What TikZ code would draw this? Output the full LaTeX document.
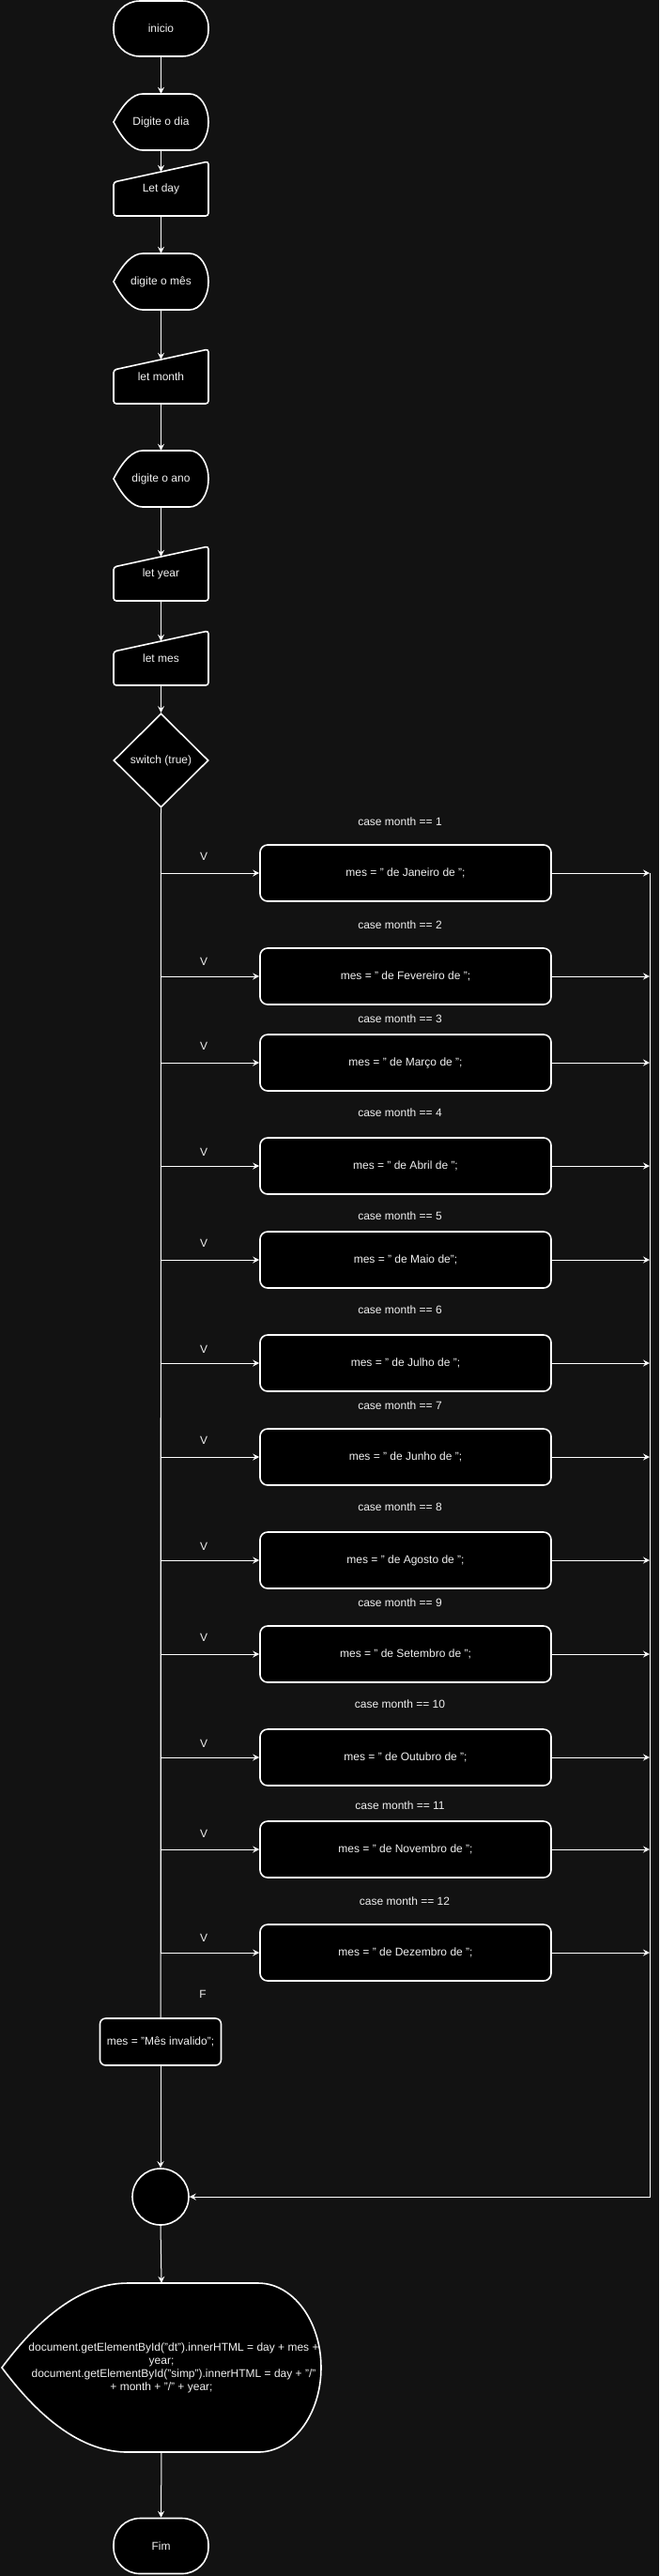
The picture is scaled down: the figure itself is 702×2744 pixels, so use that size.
\documentclass[tikz,border=0pt]{standalone}
\usepackage{fontspec}
\setmainfont{Liberation Sans}
\usetikzlibrary{shapes.geometric,arrows.meta}
\definecolor{bgc}{HTML}{121212}
\definecolor{txc}{HTML}{F0F0F0}
\newcommand\dispshape[6]{% x0, ytop, w, h, a (left part), b (right part)
  \draw[shp] (#1,#2+#4/2) .. controls (#1+#5/3,#2+#4/6) and (#1+2*#5/3,#2) .. (#1+#5,#2)
    -- (#1+#3-#6,#2)
    .. controls (#1+#3-#6+0.552*#6,#2) and (#1+#3,#2+#4/2-0.276*#4) .. (#1+#3,#2+#4/2)
    .. controls (#1+#3,#2+#4/2+0.276*#4) and (#1+#3-#6+0.552*#6,#2+#4) .. (#1+#3-#6,#2+#4)
    -- (#1+#5,#2+#4)
    .. controls (#1+2*#5/3,#2+#4) and (#1+#5/3,#2+5*#4/6) .. (#1,#2+#4/2) -- cycle;
}
\newcommand\maninshape[2]{% x0, ytop
  \draw[shp, rounded corners=3pt] (#1,#2+22) -- (#1+101,#2) -- (#1+101,#2+58) -- (#1,#2+58) -- cycle;
}
\begin{document}
\begin{tikzpicture}[x=1pt,y=-1pt,
  every node/.style={text=txc, font=\fontsize{12}{14}\selectfont},
  shp/.style={draw=white, fill=black, line width=1.6pt},
  ln/.style={draw=white, line width=1pt},
  arr/.style={ln, -{Stealth[length=7pt,width=7pt,inset=2.5pt]}},
  term/.style={shp, rectangle, rounded corners=28pt, minimum width=101pt, minimum height=59pt, inner sep=0pt},
  casebox/.style={shp, rectangle, rounded corners=8pt, minimum width=310pt, minimum height=60pt, inner sep=0pt},
  lbl/.style={inner sep=0pt},
  bbox/.style={rectangle, draw=none, fill=none, inner sep=0pt, minimum width=101pt, minimum height=60pt}
]
\fill[bgc] (0,0) rectangle (702,2744);
\useasboundingbox (0,0) rectangle (702,2744);

% top column
\node[term] (ini) at (171.5,30.5) {inicio};
\dispshape{121}{100}{101}{60}{31}{20}
\node[bbox] (dia) at (171.5,130) {Digite o dia};
\maninshape{121}{172}
\node[bbox, minimum height=58pt] (lday) at (171.5,201) {Let day};
\dispshape{121}{270}{101}{60}{31}{20}
\node[bbox] (dmes) at (171.5,300) {digite o mês};
\maninshape{121}{372}
\node[bbox, minimum height=58pt] (lmonth) at (171.5,401) {let month};
\dispshape{121}{480}{101}{60}{31}{20}
\node[bbox] (dano) at (171.5,510) {digite o ano};
\maninshape{121}{582}
\node[bbox, minimum height=58pt] (lyear) at (171.5,611) {let year};
\maninshape{121}{672}
\node[bbox, minimum height=58pt] (lmes) at (171.5,701) {let mes};
\node[shp, diamond, minimum width=101pt, minimum height=100pt, inner sep=0pt] (sw) at (171.5,810) {switch (true)};

\draw[arr] (ini.south) -- (dia.north);
\draw[arr] (dia.south) -- ([yshift=-11pt]lday.north);
\draw[arr] (lday.south) -- (dmes.north);
\draw[arr] (dmes.south) -- ([yshift=-11pt]lmonth.north);
\draw[arr] (lmonth.south) -- (dano.north);
\draw[arr] (dano.south) -- ([yshift=-11pt]lyear.north);
\draw[arr] (lyear.south) -- ([yshift=-11pt]lmes.north);
\draw[arr] (lmes.south) -- (sw.north);

\coordinate (rtop) at (692,930);
\coordinate (rbot) at (692,2340);

% invalid branch
\node[shp, rectangle, rounded corners=6pt, minimum width=129pt, minimum height=50pt, inner sep=0pt] (inv) at (171,2175) {mes = "Mês invalido";};
\draw[ln] (sw.south) -- (inv.north);
\node[lbl] (flab) at (216,2124) {F};

% cases
\foreach \i/\yc/\xl/\yl/\yv/\txt in {
  1/930/426/875/912/{mes = " de Janeiro de ";},
  2/1040/426/985/1024/{mes = " de Fevereiro de ";},
  3/1132/426/1085/1114/{mes = " de Março de ";},
  4/1242/426/1185/1227/{mes = " de Abril de ";},
  5/1342/426/1295/1324/{mes = " de Maio de";},
  6/1452/426/1395/1437/{mes = " de Julho de ";},
  7/1552/426/1497/1534/{mes = " de Junho de ";},
  8/1662/426/1605/1647/{mes = " de Agosto de ";},
  9/1762/426/1707/1744/{mes = " de Setembro de ";},
  10/1872/426/1815/1857/{mes = " de Outubro de ";},
  11/1970/426/1923/1953/{mes = " de Novembro de ";},
  12/2080/431/2025/2064/{mes = " de Dezembro de ";}}{
  \node[casebox] (b\i) at (432,\yc) {\txt};
  \node[lbl] (c\i) at (\xl,\yl) {case month == \i};
  \node[lbl] (v\i) at (217,\yv) {V};
  \draw[arr] (sw.south) |- (b\i.west);
  \draw[arr] (b\i.east) -- (b\i.east -| rtop);
}

% merge
\node[shp, circle, minimum size=60pt, inner sep=0pt] (circ) at (171,2340) {};
\draw[arr] (inv.south) -- (circ.north);
\draw[arr] (rtop) -- (rbot) -- (circ.east);

% output
\dispshape{2}{2432}{340}{180}{134}{67}
\node[bbox, minimum width=340pt, minimum height=180pt, align=center] (out) at (172,2522)
  {\hspace*{26pt}document.getElementById("dt").innerHTML = day + mes +\\year;\\\hspace*{26pt}document.getElementById("simp").innerHTML = day + "/"\\+ month + "/" + year;};
\draw[arr] (circ.south) -- (out.north);

\node[term] (fim) at (171.5,2712) {Fim};
\draw[arr] (out.south) -- (fim.north);
\end{tikzpicture}
\end{document}
